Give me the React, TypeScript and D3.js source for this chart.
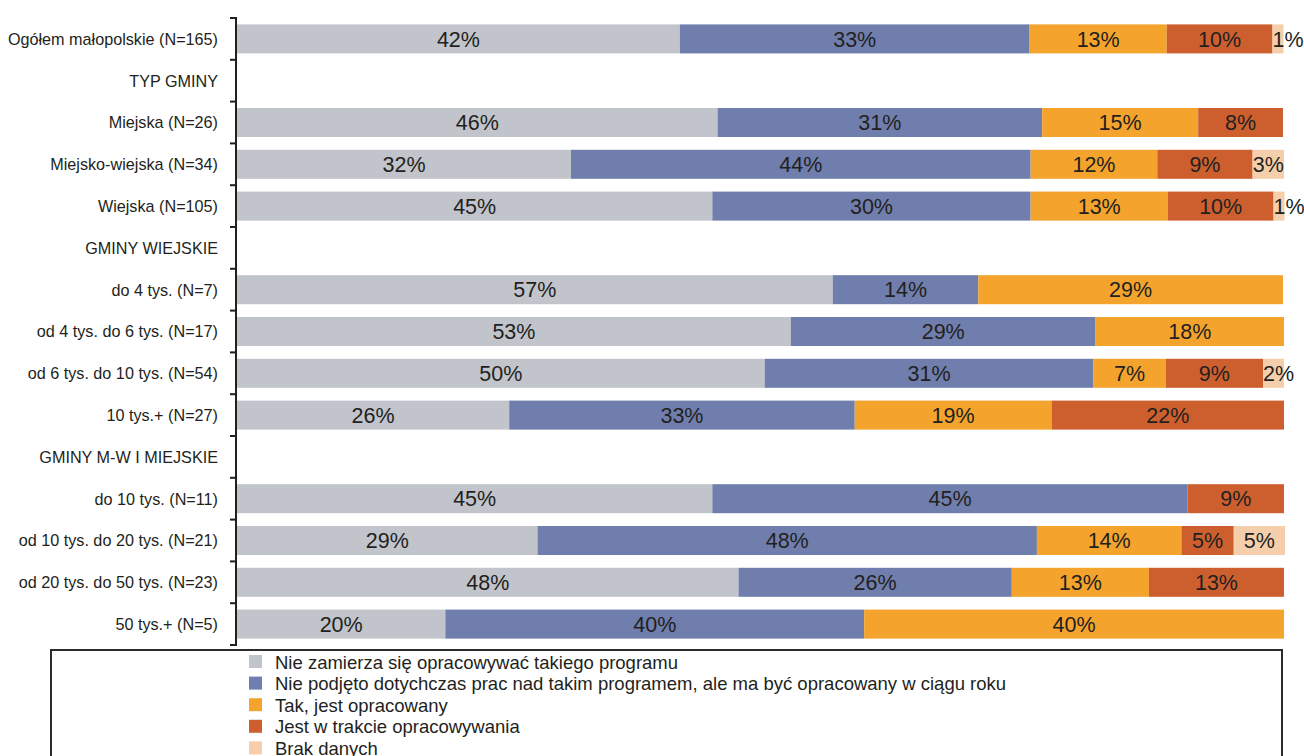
import React from "react";
import * as d3 from "d3";

const categories: string[] = [
  "Ogółem małopolskie (N=165)",
  "TYP GMINY",
  "Miejska (N=26)",
  "Miejsko-wiejska (N=34)",
  "Wiejska (N=105)",
  "GMINY WIEJSKIE",
  "do 4 tys. (N=7)",
  "od 4 tys. do 6 tys. (N=17)",
  "od 6 tys. do 10 tys. (N=54)",
  "10 tys.+ (N=27)",
  "GMINY M-W I MIEJSKIE",
  "do 10 tys. (N=11)",
  "od 10 tys. do 20 tys. (N=21)",
  "od 20 tys. do 50 tys. (N=23)",
  "50 tys.+ (N=5)",
];

const seriesNames: string[] = [
  "Nie zamierza się opracowywać takiego programu",
  "Nie podjęto dotychczas prac nad takim programem, ale ma być opracowany w ciągu roku",
  "Tak, jest opracowany",
  "Jest w trakcie opracowywania",
  "Brak danych",
];

const seriesColors: string[] = ["#c1c4cb", "#6f7ead", "#f4a42d", "#cd5f2e", "#f5cfab"];

// percentages per series (null = header row with no bar)
const nieZamierza: (number | null)[] = [42.3, null, 45.9, 31.9, 45.4, null, 56.9, 52.9, 50.4, 26.0, null, 45.4, 28.7, 47.9, 19.9];
const niePodjeto: (number | null)[] = [33.4, null, 31.0, 43.9, 30.4, null, 13.9, 29.1, 31.4, 33.0, null, 45.4, 47.7, 26.1, 40.0];
const takOpracowany: (number | null)[] = [13.1, null, 14.9, 12.1, 13.1, null, 29.1, 18.0, 6.9, 18.8, null, 0, 13.8, 13.1, 40.1];
const wTrakcie: (number | null)[] = [10.1, null, 8.1, 9.1, 10.1, null, 0, 0, 9.3, 22.2, null, 9.2, 5.0, 12.9, 0];
const brakDanych: (number | null)[] = [1.05, null, 0, 3.0, 1.05, null, 0, 0, 2.0, 0, null, 0, 4.9, 0, 0];

const series = [nieZamierza, niePodjeto, takOpracowany, wTrakcie, brakDanych];

const FONT = "'Liberation Sans', Arial, Helvetica, sans-serif";

export default function App() {
  const width = 1304;
  const height = 756;
  const x0 = 237;
  const x1 = 1284;
  const yTop = 18;
  const yBot = 645;
  const labelSize = 21.5;

  const x = d3.scaleLinear().domain([0, 100]).range([x0, x1]);
  const y = d3
    .scaleBand<string>()
    .domain(categories)
    .range([yTop, yBot])
    .paddingInner(0.306)
    .paddingOuter(0.153);
  const step = y.step();
  const bw = y.bandwidth();

  const bars: React.ReactNode[] = [];
  const labels: React.ReactNode[] = [];
  categories.forEach((cat, ci) => {
    let acc = 0;
    series.forEach((s, si) => {
      const v = s[ci];
      if (v === null || v === undefined || v <= 0) return;
      const xs = x(acc);
      const xe = x(acc + v);
      acc += v;
      const yy = y(cat) as number;
      bars.push(
        <rect key={`b-${ci}-${si}`} x={xs} y={yy} width={xe - xs} height={bw} fill={seriesColors[si]} />
      );
      const txt = `${Math.round(v)}%`;
      const tw = ((txt.length - 1) * 0.556 + 0.889) * labelSize;
      const cx = Math.max((xs + xe) / 2, xs + tw / 2);
      labels.push(
        <text
          key={`l-${ci}-${si}`}
          x={cx}
          y={yy + bw / 2}
          dy="0.36em"
          textAnchor="middle"
          fontSize={labelSize}
          fill="#231f20"
          fontFamily={FONT}
        >
          {txt}
        </text>
      );
    });
  });

  const tickYs = d3.range(categories.length + 1).map((i) => yTop + i * step);

  const legendY0 = 662;
  const legendStep = 21.6;

  return (
    <svg
      width={width}
      height={height}
      style={{ position: "absolute", left: 0, top: 0, background: "#fff" }}
    >
      <rect x={0} y={0} width={width} height={height} fill="#fff" />
      {bars}
      {labels}
      <line x1={236} x2={236} y1={yTop} y2={yBot} stroke="#231f20" strokeWidth={2} />
      {tickYs.map((ty, i) => (
        <line key={`t-${i}`} x1={230} x2={237} y1={ty} y2={ty} stroke="#231f20" strokeWidth={2} />
      ))}
      {categories.map((cat, ci) => (
        <text
          key={`c-${ci}`}
          x={218}
          y={(y(cat) as number) + bw / 2}
          dy="0.36em"
          textAnchor="end"
          fontSize={16.2}
          fill="#231f20"
          fontFamily={FONT}
        >
          {cat}
        </text>
      ))}
      <rect x={51} y={650} width={1231} height={130} fill="none" stroke="#2b2b2b" strokeWidth={2} />
      {seriesNames.map((name, i) => (
        <g key={`lg-${i}`} transform={`translate(249, ${legendY0 + i * legendStep})`}>
          <rect x={0} y={-7} width={13} height={13} fill={seriesColors[i]} />
          <text x={26} y={0} dy="0.36em" fontSize={18.5} fill="#231f20" fontFamily={FONT}>
            {name}
          </text>
        </g>
      ))}
    </svg>
  );
}
